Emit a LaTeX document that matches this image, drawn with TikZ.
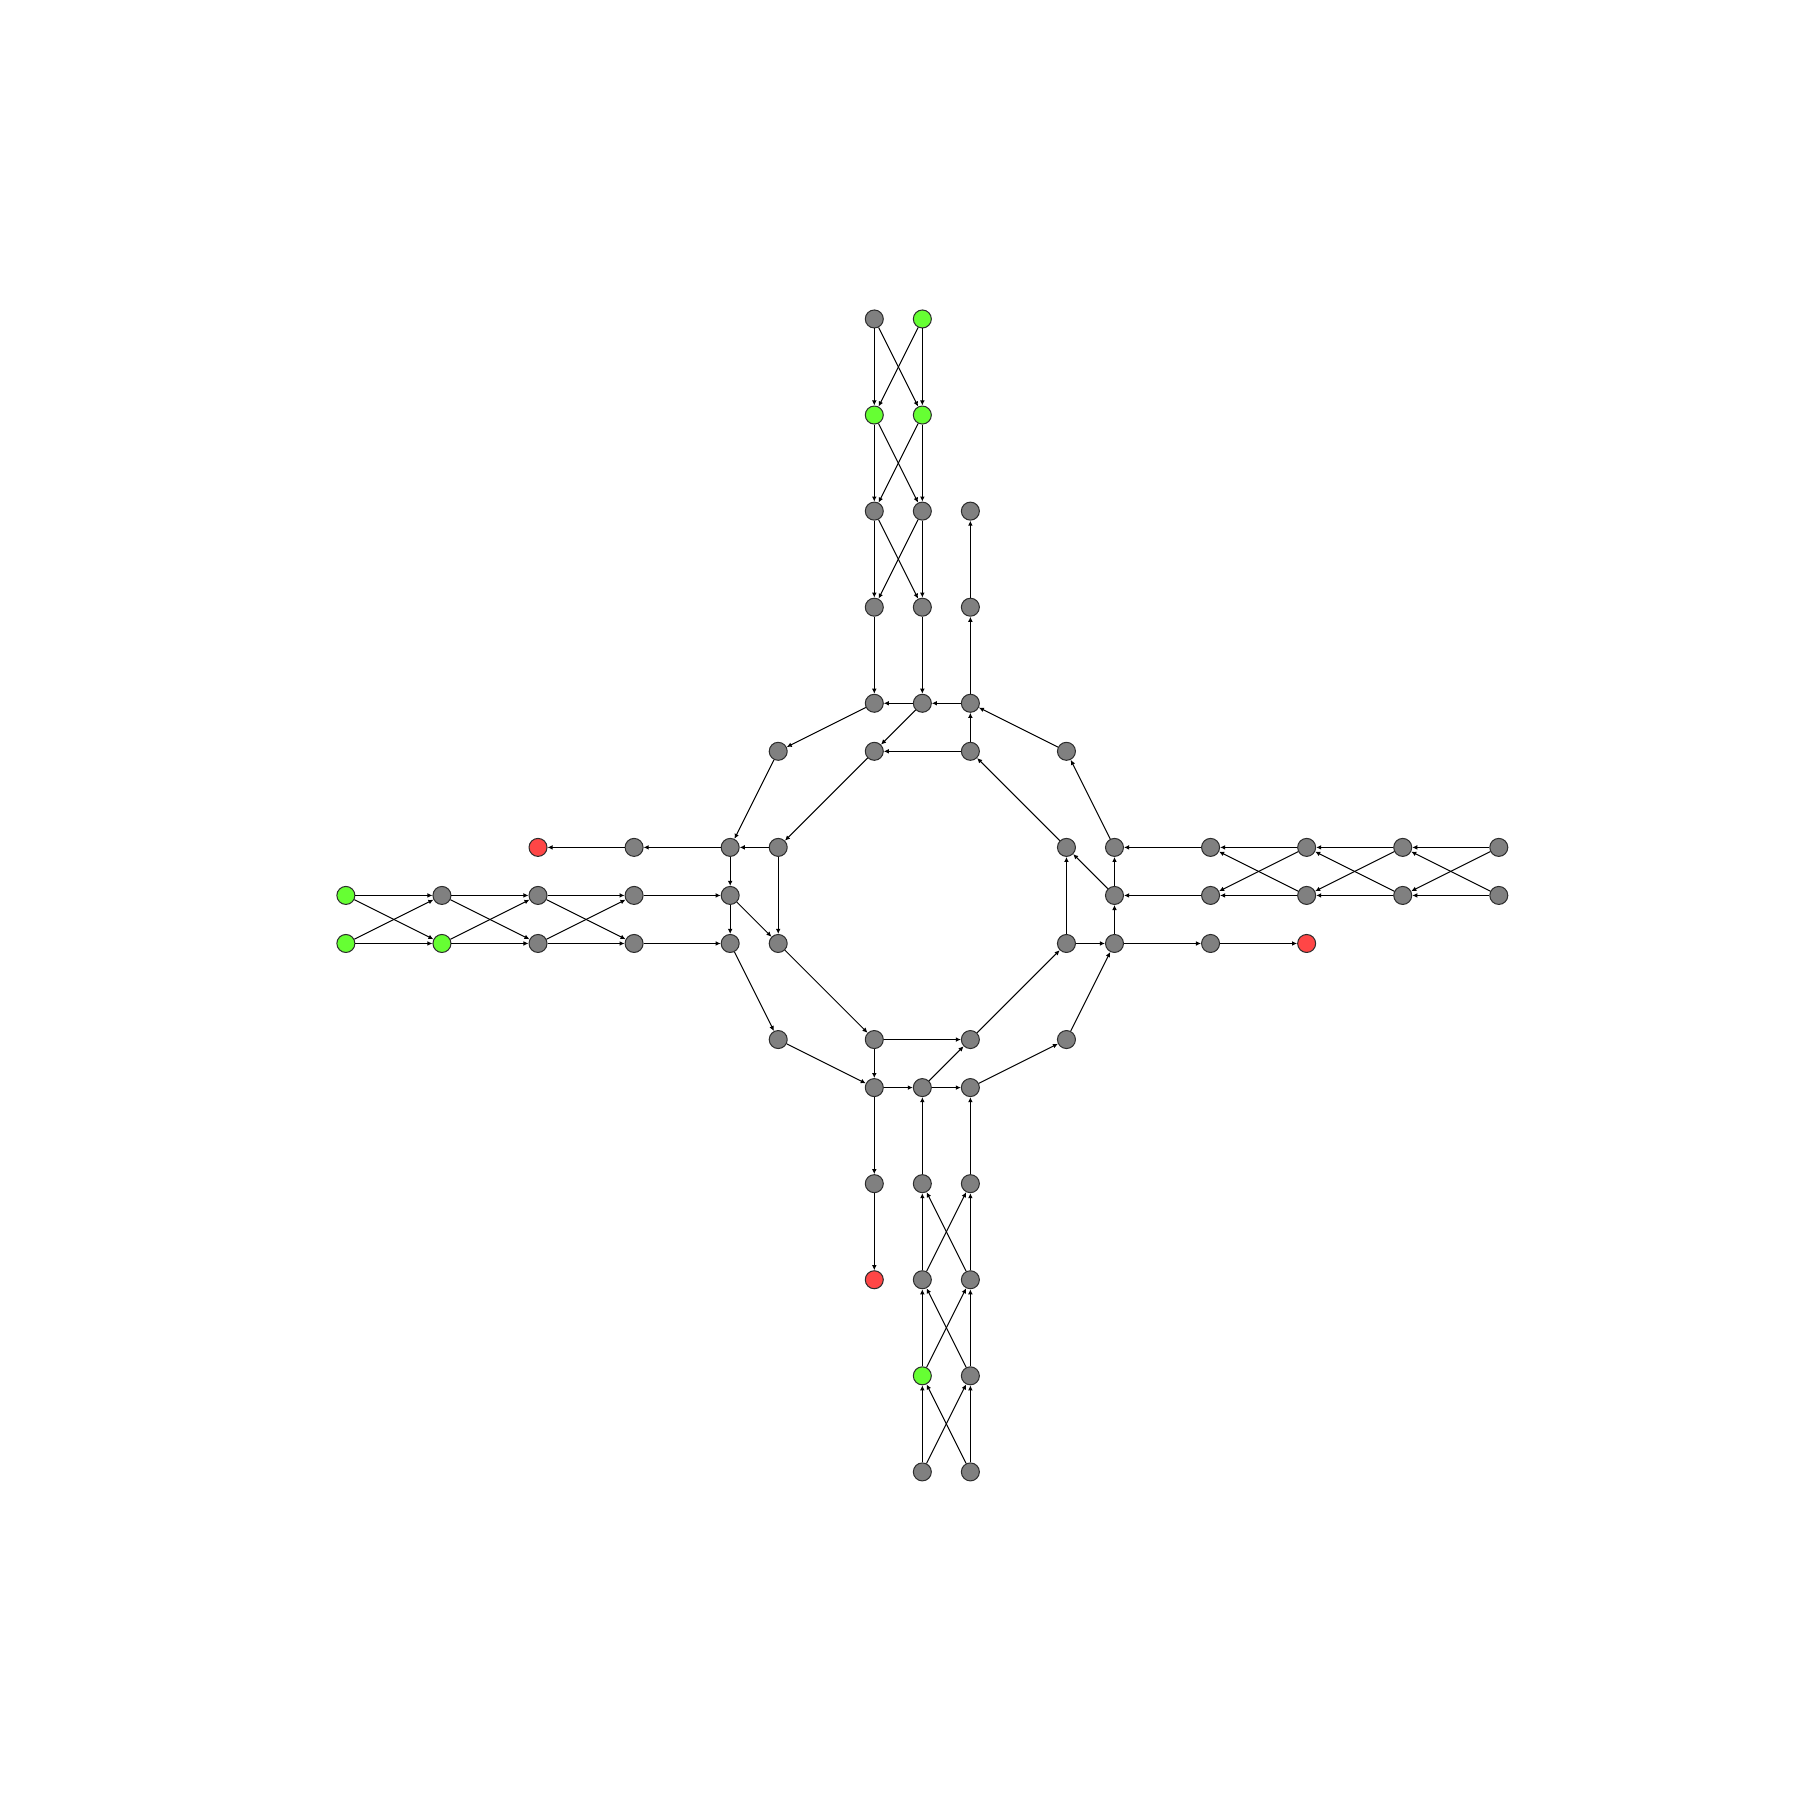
\documentclass[tikz,border=0pt]{standalone}
\usepackage{tikz}
\usetikzlibrary{arrows.meta}
\definecolor{nodegray}{RGB}{128,128,128}
\definecolor{srcgreen}{RGB}{102,255,51}
\definecolor{sinkred}{RGB}{255,70,70}
\definecolor{rim}{RGB}{45,45,45}

\begin{document}
\begin{tikzpicture}[
  vertex/.style={
    circle, draw=rim, fill=nodegray, line width=0.6pt,
    minimum size=0.375cm, inner sep=0pt
  },
  source/.style={vertex, fill=srcgreen},
  sink/.style={vertex, fill=sinkred},
  conn/.style={-{Latex[length=3pt,width=2.8pt]}, line width=0.6pt, black}
]
  \useasboundingbox (-19.2,-18.83) rectangle (18.27,18.64);

  % north arm
  \node[vertex] (n1a) at (-1,12) {};
  \node[source] (n1b) at (0,12)  {};
  \node[source] (n2a) at (-1,10) {};
  \node[source] (n2b) at (0,10)  {};
  \node[vertex] (n3a) at (-1,8)  {};
  \node[vertex] (n3b) at (0,8)   {};
  \node[vertex] (n4a) at (-1,6)  {};
  \node[vertex] (n4b) at (0,6)   {};
  \node[vertex] (no1) at (1,6)   {};
  \node[vertex] (no2) at (1,8)   {};
  \node[vertex] (nja) at (-1,4)  {};
  \node[vertex] (njb) at (0,4)   {};
  \node[vertex] (njc) at (1,4)   {};

  % west arm
  \node[source] (w1a) at (-12,0)  {};
  \node[source] (w1b) at (-12,-1) {};
  \node[vertex] (w2a) at (-10,0)  {};
  \node[source] (w2b) at (-10,-1) {};
  \node[vertex] (w3a) at (-8,0)   {};
  \node[vertex] (w3b) at (-8,-1)  {};
  \node[vertex] (w4a) at (-6,0)   {};
  \node[vertex] (w4b) at (-6,-1)  {};
  \node[vertex] (wo1) at (-6,1)   {};
  \node[sink]   (wo2) at (-8,1)   {};
  \node[vertex] (wja) at (-4,1)   {};
  \node[vertex] (wjb) at (-4,0)   {};
  \node[vertex] (wjc) at (-4,-1)  {};

  % south arm
  \node[vertex] (s1a) at (0,-12) {};
  \node[vertex] (s1b) at (1,-12) {};
  \node[source] (s2a) at (0,-10) {};
  \node[vertex] (s2b) at (1,-10) {};
  \node[vertex] (s3a) at (0,-8)  {};
  \node[vertex] (s3b) at (1,-8)  {};
  \node[vertex] (s4a) at (0,-6)  {};
  \node[vertex] (s4b) at (1,-6)  {};
  \node[vertex] (so1) at (-1,-6) {};
  \node[sink]   (so2) at (-1,-8) {};
  \node[vertex] (sja) at (-1,-4) {};
  \node[vertex] (sjb) at (0,-4)  {};
  \node[vertex] (sjc) at (1,-4)  {};

  % east arm
  \node[vertex] (e1a) at (12,1) {};
  \node[vertex] (e1b) at (12,0) {};
  \node[vertex] (e2a) at (10,1) {};
  \node[vertex] (e2b) at (10,0) {};
  \node[vertex] (e3a) at (8,1)  {};
  \node[vertex] (e3b) at (8,0)  {};
  \node[vertex] (e4a) at (6,1)  {};
  \node[vertex] (e4b) at (6,0)  {};
  \node[vertex] (eo1) at (6,-1) {};
  \node[sink]   (eo2) at (8,-1) {};
  \node[vertex] (eja) at (4,1)  {};
  \node[vertex] (ejb) at (4,0)  {};
  \node[vertex] (ejc) at (4,-1) {};

  % ring
  \node[vertex] (iN1) at (-1,3)  {};
  \node[vertex] (iN2) at (1,3)   {};
  \node[vertex] (iE1) at (3,1)   {};
  \node[vertex] (iE2) at (3,-1)  {};
  \node[vertex] (iS1) at (1,-3)  {};
  \node[vertex] (iS2) at (-1,-3) {};
  \node[vertex] (iW1) at (-3,-1) {};
  \node[vertex] (iW2) at (-3,1)  {};
  \node[vertex] (oNW) at (-3,3)  {};
  \node[vertex] (oNE) at (3,3)   {};
  \node[vertex] (oSE) at (3,-3)  {};
  \node[vertex] (oSW) at (-3,-3) {};

  % north edges
  \draw[conn] (n1a) -- (n2a); \draw[conn] (n1a) -- (n2b);
  \draw[conn] (n1b) -- (n2b); \draw[conn] (n1b) -- (n2a);
  \draw[conn] (n2a) -- (n3a); \draw[conn] (n2a) -- (n3b);
  \draw[conn] (n2b) -- (n3b); \draw[conn] (n2b) -- (n3a);
  \draw[conn] (n3a) -- (n4a); \draw[conn] (n3a) -- (n4b);
  \draw[conn] (n3b) -- (n4b); \draw[conn] (n3b) -- (n4a);
  \draw[conn] (n4a) -- (nja); \draw[conn] (n4b) -- (njb);
  \draw[conn] (njc) -- (no1); \draw[conn] (no1) -- (no2);
  \draw[conn] (njc) -- (njb); \draw[conn] (njb) -- (nja);
  \draw[conn] (nja) -- (oNW); \draw[conn] (njb) -- (iN1);
  \draw[conn] (iN2) -- (njc); \draw[conn] (oNE) -- (njc);
  \draw[conn] (iN2) -- (iN1); \draw[conn] (iN1) -- (iW2);

  % west edges
  \draw[conn] (w1a) -- (w2a); \draw[conn] (w1a) -- (w2b);
  \draw[conn] (w1b) -- (w2b); \draw[conn] (w1b) -- (w2a);
  \draw[conn] (w2a) -- (w3a); \draw[conn] (w2a) -- (w3b);
  \draw[conn] (w2b) -- (w3b); \draw[conn] (w2b) -- (w3a);
  \draw[conn] (w3a) -- (w4a); \draw[conn] (w3a) -- (w4b);
  \draw[conn] (w3b) -- (w4b); \draw[conn] (w3b) -- (w4a);
  \draw[conn] (w4a) -- (wjb); \draw[conn] (w4b) -- (wjc);
  \draw[conn] (wja) -- (wo1); \draw[conn] (wo1) -- (wo2);
  \draw[conn] (wja) -- (wjb); \draw[conn] (wjb) -- (wjc);
  \draw[conn] (wjc) -- (oSW); \draw[conn] (wjb) -- (iW1);
  \draw[conn] (iW2) -- (wja); \draw[conn] (oNW) -- (wja);
  \draw[conn] (iW2) -- (iW1); \draw[conn] (iW1) -- (iS2);

  % south edges
  \draw[conn] (s1a) -- (s2a); \draw[conn] (s1a) -- (s2b);
  \draw[conn] (s1b) -- (s2b); \draw[conn] (s1b) -- (s2a);
  \draw[conn] (s2a) -- (s3a); \draw[conn] (s2a) -- (s3b);
  \draw[conn] (s2b) -- (s3b); \draw[conn] (s2b) -- (s3a);
  \draw[conn] (s3a) -- (s4a); \draw[conn] (s3a) -- (s4b);
  \draw[conn] (s3b) -- (s4b); \draw[conn] (s3b) -- (s4a);
  \draw[conn] (s4a) -- (sjb); \draw[conn] (s4b) -- (sjc);
  \draw[conn] (sja) -- (so1); \draw[conn] (so1) -- (so2);
  \draw[conn] (sja) -- (sjb); \draw[conn] (sjb) -- (sjc);
  \draw[conn] (sjc) -- (oSE); \draw[conn] (sjb) -- (iS1);
  \draw[conn] (iS2) -- (sja); \draw[conn] (oSW) -- (sja);
  \draw[conn] (iS2) -- (iS1); \draw[conn] (iS1) -- (iE2);

  % east edges
  \draw[conn] (e1a) -- (e2a); \draw[conn] (e1a) -- (e2b);
  \draw[conn] (e1b) -- (e2b); \draw[conn] (e1b) -- (e2a);
  \draw[conn] (e2a) -- (e3a); \draw[conn] (e2a) -- (e3b);
  \draw[conn] (e2b) -- (e3b); \draw[conn] (e2b) -- (e3a);
  \draw[conn] (e3a) -- (e4a); \draw[conn] (e3a) -- (e4b);
  \draw[conn] (e3b) -- (e4b); \draw[conn] (e3b) -- (e4a);
  \draw[conn] (e4a) -- (eja); \draw[conn] (e4b) -- (ejb);
  \draw[conn] (ejc) -- (eo1); \draw[conn] (eo1) -- (eo2);
  \draw[conn] (ejc) -- (ejb); \draw[conn] (ejb) -- (eja);
  \draw[conn] (eja) -- (oNE); \draw[conn] (ejb) -- (iE1);
  \draw[conn] (iE2) -- (ejc); \draw[conn] (oSE) -- (ejc);
  \draw[conn] (iE2) -- (iE1); \draw[conn] (iE1) -- (iN2);
\end{tikzpicture}
\end{document}
